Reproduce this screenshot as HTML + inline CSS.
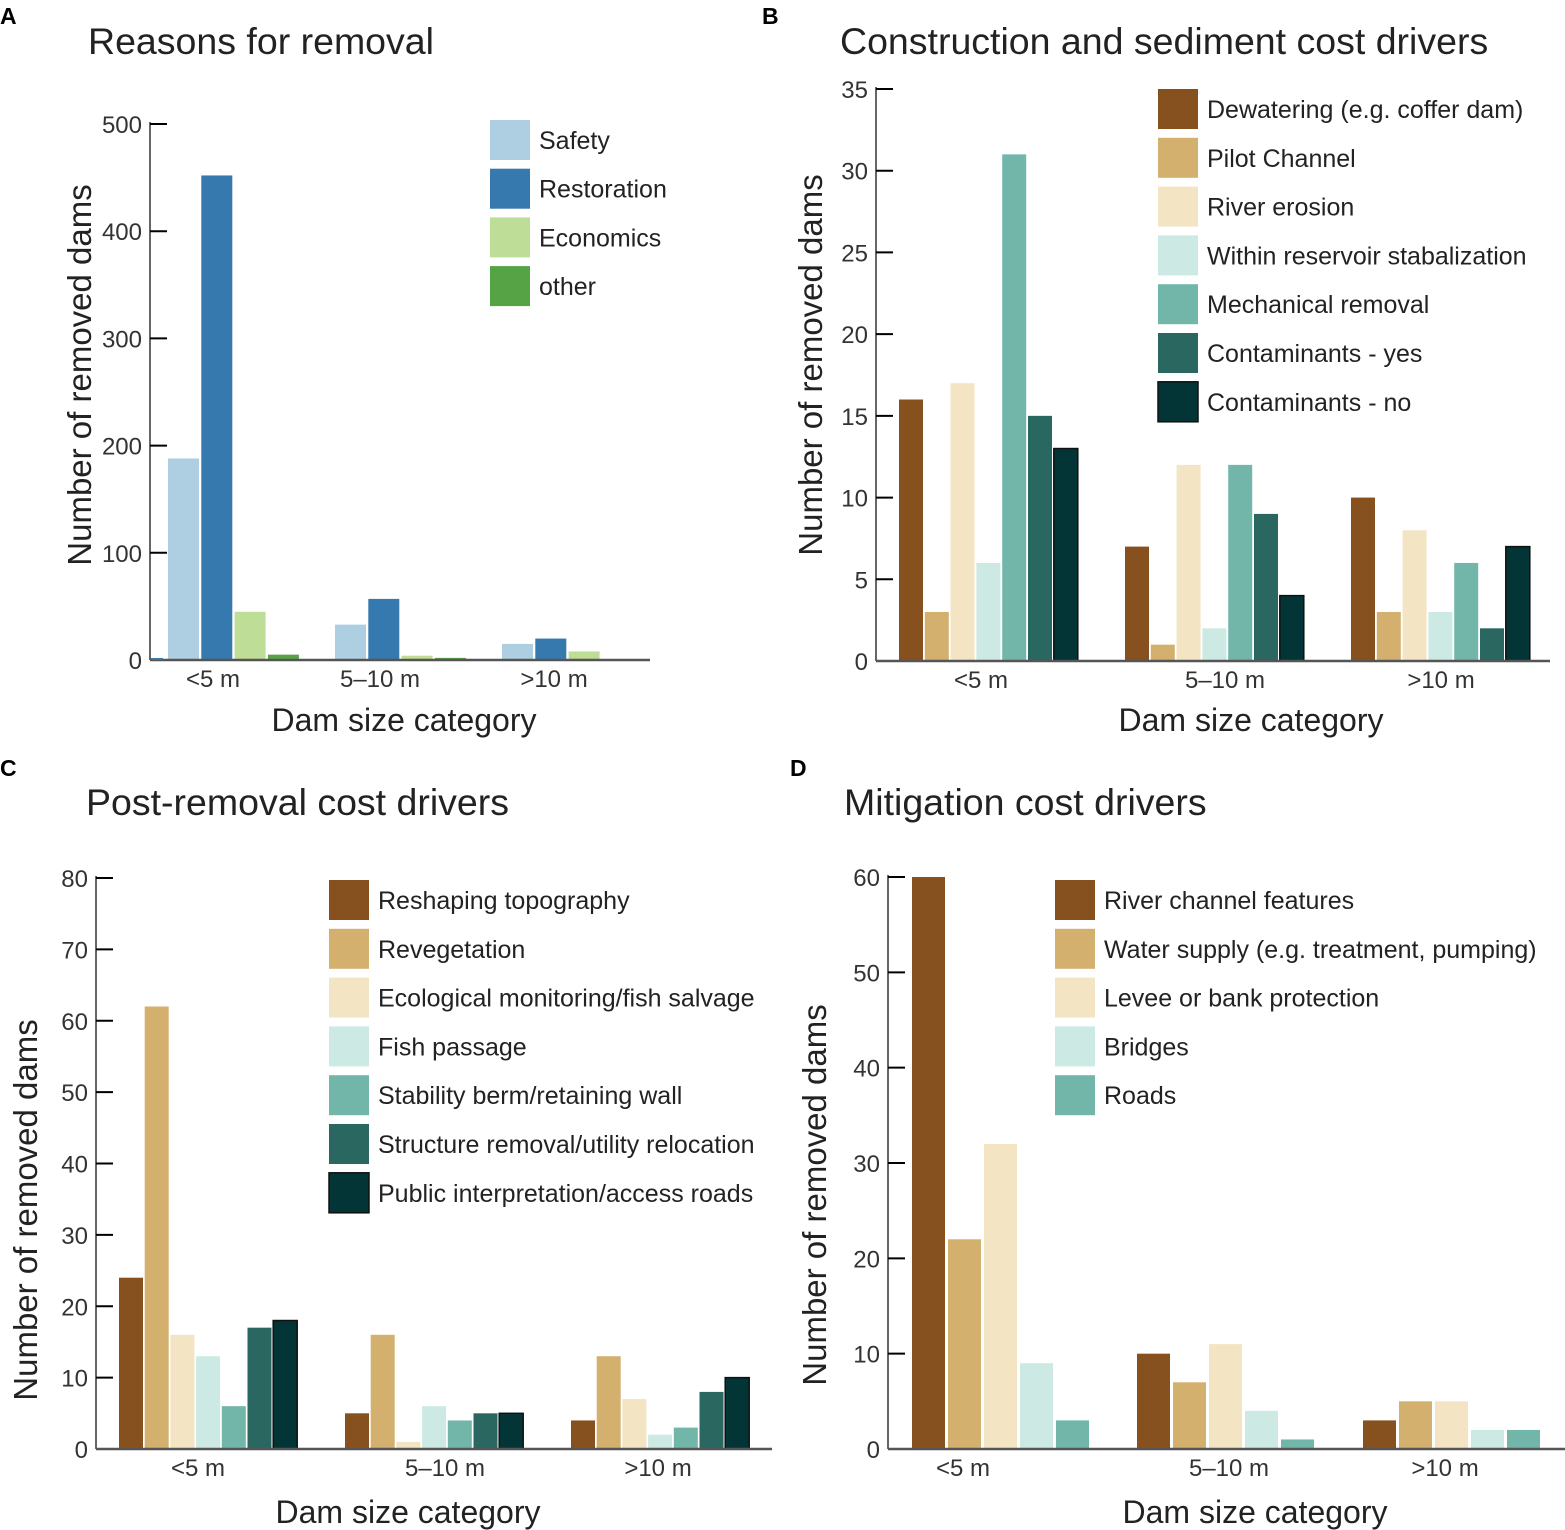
<!DOCTYPE html>
<html><head><meta charset="utf-8"><style>
html,body{margin:0;padding:0;background:#fff;}
svg{display:block;font-family:"Liberation Sans",sans-serif;}
</style></head><body>
<svg id="fig" width="1565" height="1530" xmlns="http://www.w3.org/2000/svg"></svg>
<script>
// Panel A data
const catsA = ["<5 m","5–10 m",">10 m"];
const seriesNamesA = ["Safety","Restoration","Economics","other"];
const safetyA = [188,33,15];
const restorationA = [452,57,20];
const economicsA = [45,4,8];
const otherA = [5,2,0];
const ticksA = [0,100,200,300,400,500];
// Panel B data
const seriesNamesB = ["Dewatering (e.g. coffer dam)","Pilot Channel","River erosion","Within reservoir stabalization","Mechanical removal","Contaminants - yes","Contaminants - no"];
const dewateringB = [16,7,10];
const pilotB = [3,1,3];
const erosionB = [17,12,8];
const withinB = [6,2,3];
const mechanicalB = [31,12,6];
const contYesB = [15,9,2];
const contNoB = [13,4,7];
const ticksB = [0,5,10,15,20,25,30,35];
// Panel C data
const seriesNamesC = ["Reshaping topography","Revegetation","Ecological monitoring/fish salvage","Fish passage","Stability berm/retaining wall","Structure removal/utility relocation","Public interpretation/access roads"];
const reshapingC = [24,5,4];
const revegC = [62,16,13];
const ecoC = [16,1,7];
const fishC = [13,6,2];
const stabilityC = [6,4,3];
const structureC = [17,5,8];
const publicC = [18,5,10];
const ticksC = [0,10,20,30,40,50,60,70,80];
// Panel D data
const seriesNamesD = ["River channel features","Water supply (e.g. treatment, pumping)","Levee or bank protection","Bridges","Roads"];
const riverD = [60,10,3];
const waterD = [22,7,5];
const leveeD = [32,11,5];
const bridgesD = [9,4,2];
const roadsD = [3,1,2];
const ticksD = [0,10,20,30,40,50,60];

const NS="http://www.w3.org/2000/svg";
const svg=document.getElementById('fig');
function mk(tag,attrs,parent){const e=document.createElementNS(NS,tag);for(const k in attrs)e.setAttribute(k,attrs[k]);(parent||svg).appendChild(e);return e;}
function txt(s,attrs,parent){const t=mk('text',attrs,parent);t.textContent=s;return t;}

const brown=["#87501f","#d4b06f","#f3e5c4","#cde9e3","#72b6a9","#2a6760","#033436"];
const blue=["#aecfe1","#3579ae","#bedd96","#56a345"];

function panel(p){
  const g=mk('g',{});
  
  
  const y=v=>p.y0-(v/p.ymax)*(p.y0-p.ytop);
  p.series.forEach((vals,si)=>{
    vals.forEach((v,ci)=>{
      const x=p.gx[ci]+si*p.step;
      const r=mk('rect',{x:x,y:y(v),width:p.bw,height:Math.max(0,p.y0-y(v)),fill:p.colors[si],stroke:si==6?'#111':'none','stroke-width':1.5},g);
      
      
    });
  });
  const ya=mk('line',{x1:p.ax,y1:p.ytop-2,x2:p.ax,y2:p.y0,stroke:'#666','stroke-width':2},g);
  
  const xa=mk('line',{x1:p.ax,y1:p.y0,x2:p.xend,y2:p.y0,stroke:'#555','stroke-width':2.5},g);
  
  p.ticks.forEach(t=>{
    const l=mk('line',{x1:p.ax,y1:y(t),x2:p.ax+(t==0?0:17),y2:y(t),stroke:'#000','stroke-width':2},g);
    
    const tl=txt(String(t),{x:p.ax-8,y:y(t)+9,'text-anchor':'end','font-size':24,fill:'#333'},g);
    
  });
  p.cats.forEach((c,ci)=>{
    const cl=txt(c,{x:p.lblX[ci],y:p.y0+27,'text-anchor':'middle','font-size':24,fill:'#333'},g);
    
  });
  const tt=txt(p.title,{x:p.tx,y:p.ty,'font-size':37.5,fill:'#222'},g);
  
  const pl=txt(p.letter,{x:p.lx,y:p.ly,'font-size':23,'font-weight':'bold',fill:'#000'},g);
  
  const yt=txt('Number of removed dams',{x:0,y:0,'text-anchor':'middle','font-size':33,fill:'#222',transform:'translate('+p.ytx+','+p.yty+') rotate(-90)'},g);
  
  const xt=txt('Dam size category',{x:p.xtx,y:p.xty,'text-anchor':'middle','font-size':32,fill:'#222'},g);
  
  p.names.forEach((n,i)=>{
    const ly=p.legY+i*p.legStep;
    const s=mk('rect',{x:p.legX,y:ly,width:40,height:40,fill:p.colors[i],stroke:i==6?'#111':'none','stroke-width':1.5},g);
    
    const lt=txt(n,{x:p.legX+49,y:ly+29,'font-size':25,fill:'#222'},g);
    
  });
}

panel({id:'a',letter:'A',lx:0,ly:24,title:'Reasons for removal',tx:88,ty:54,
  series:[safetyA,restorationA,economicsA,otherA],names:seriesNamesA,colors:blue,cats:catsA,ticks:ticksA,
  ymax:500,y0:660,ytop:124,ax:150,xend:650,gx:[168,335,502],bw:31,step:33.3,lblX:[213,380,554],
  ytx:91,yty:375,xtx:404,xty:731,legX:490,legY:120,legStep:48.7});
const stray=mk('rect',{x:151,y:658,width:12,height:2,fill:'#3579ae'});


panel({id:'b',letter:'B',lx:762,ly:24,title:'Construction and sediment cost drivers',tx:840,ty:54,
  series:[dewateringB,pilotB,erosionB,withinB,mechanicalB,contYesB,contNoB],names:seriesNamesB,colors:brown,cats:catsA,ticks:ticksB,
  ymax:35,y0:661,ytop:89,ax:876,xend:1550,gx:[899,1125,1351],bw:24,step:25.8,lblX:[981,1225,1441],
  ytx:822,yty:365,xtx:1251,xty:731,legX:1158,legY:89,legStep:48.8});

panel({id:'c',letter:'C',lx:0,ly:776,title:'Post-removal cost drivers',tx:86,ty:815,
  series:[reshapingC,revegC,ecoC,fishC,stabilityC,structureC,publicC],names:seriesNamesC,colors:brown,cats:catsA,ticks:ticksC,
  ymax:80,y0:1449,ytop:878,ax:96,xend:772,gx:[119,345,571],bw:24,step:25.7,lblX:[198,445,658],
  ytx:37,yty:1210,xtx:408,xty:1523,legX:329,legY:880,legStep:48.8});

panel({id:'d',letter:'D',lx:790,ly:776,title:'Mitigation cost drivers',tx:844,ty:815,
  series:[riverD,waterD,leveeD,bridgesD,roadsD],names:seriesNamesD,colors:brown,cats:catsA,ticks:ticksD,
  ymax:60,y0:1449,ytop:877,ax:888,xend:1565,gx:[912,1137,1363],bw:33,step:36,lblX:[963,1229,1445],
  ytx:826,yty:1195,xtx:1255,xty:1523,legX:1055,legY:880,legStep:48.8});
</script>
</body></html>
